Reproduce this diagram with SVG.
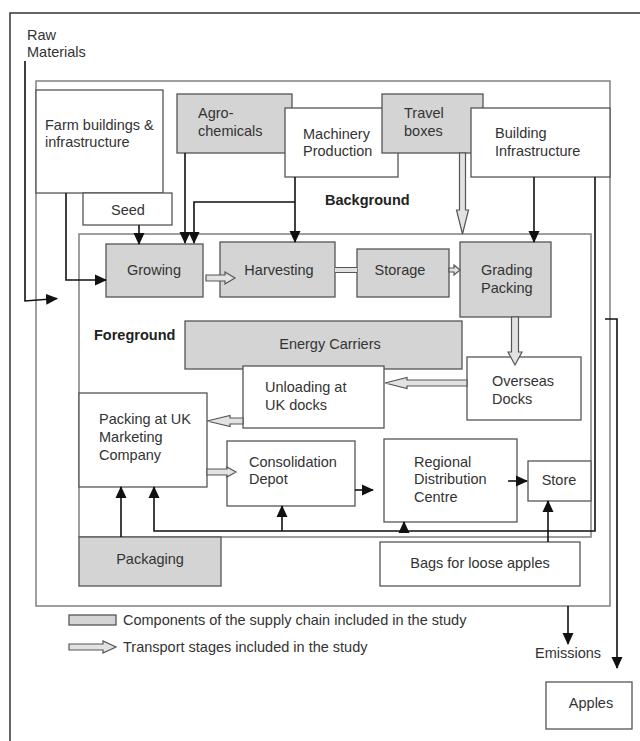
<svg xmlns="http://www.w3.org/2000/svg" width="640" height="741" viewBox="0 0 640 741">
<style>
text{font-family:"Liberation Sans",Arial,sans-serif;font-size:14.5px;fill:#333}
.b{font-weight:bold;fill:#222}
.c{text-anchor:middle}
.w{fill:#fff;stroke:#555;stroke-width:1.3}
.g{fill:#d4d4d4;stroke:#555;stroke-width:1.3}
.frame{fill:none;stroke:#888;stroke-width:1.6}
.ln{fill:none;stroke:#111;stroke-width:1.6}
.ho{fill:#e2e2e2;stroke:#555;stroke-width:1.2;stroke-linejoin:miter}
</style>
<defs>
<marker id="ah" markerUnits="userSpaceOnUse" markerWidth="12" markerHeight="12" viewBox="0 0 12 12" refX="11" refY="6" orient="auto">
<path d="M0,0.5 L12,6 L0,11.5 Z" fill="#111"/>
</marker>
</defs>
<rect width="640" height="741" fill="#fff"/>
<path d="M10,741 V13 H640" fill="none" stroke="#333" stroke-width="1.5"/>
<g id="raw-materials">
<text x="27" y="40">Raw</text>
<text x="27" y="57">Materials</text>
</g>
<g id="background-frame">
<rect class="frame" x="36" y="81" width="574" height="525"/>
<text class="b" x="325" y="205">Background</text>
</g>
<g id="foreground-frame">
<rect class="frame" x="79" y="234" width="512" height="303"/>
<text class="b" x="94" y="340">Foreground</text>
</g>
<g id="farm-buildings"><rect class="w" x="36" y="90" width="127" height="103"/><text x="45" y="130">Farm buildings &amp;</text><text x="45" y="147">infrastructure</text></g>
<g id="seed"><rect class="w" x="83" y="193" width="89" height="32"/><text class="c" x="128" y="215">Seed</text></g>
<g id="agro-chemicals"><rect class="g" x="177" y="94" width="115" height="59"/><text x="198" y="118">Agro-</text><text x="198" y="136">chemicals</text></g>
<g id="machinery"><rect class="w" x="285" y="108" width="113" height="69"/><text x="303" y="139">Machinery</text><text x="303" y="156">Production</text></g>
<g id="travel-boxes"><rect class="g" x="382" y="94" width="101" height="59"/><text x="404" y="118">Travel</text><text x="404" y="136">boxes</text></g>
<g id="building-infrastructure"><rect class="w" x="471" y="108" width="139" height="69"/><text x="495" y="138">Building</text><text x="495" y="156">Infrastructure</text></g>
<g id="growing"><rect class="g" x="106" y="244" width="97" height="53"/><text class="c" x="154" y="275">Growing</text></g>
<g id="harvesting"><rect class="g" x="220" y="242" width="115" height="55"/><text class="c" x="279" y="275">Harvesting</text></g>
<g id="storage"><rect class="g" x="357" y="249" width="92" height="48"/><text class="c" x="400" y="275">Storage</text></g>
<g id="grading-packing"><rect class="g" x="460" y="242" width="91" height="75"/><text x="481" y="275">Grading</text><text x="481" y="293">Packing</text></g>
<g id="energy-carriers"><rect class="g" x="185" y="321" width="277" height="48"/><text class="c" x="330" y="349">Energy Carriers</text></g>
<g id="overseas-docks"><rect class="w" x="467" y="357" width="114" height="63"/><text x="492" y="386">Overseas</text><text x="492" y="404">Docks</text></g>
<g id="unloading-uk-docks"><rect class="w" x="243" y="366" width="141" height="62"/><text x="265" y="392">Unloading at</text><text x="265" y="410">UK docks</text></g>
<g id="packing-uk"><rect class="w" x="79" y="393" width="128" height="94"/><text x="99" y="424">Packing at UK</text><text x="99" y="442">Marketing</text><text x="99" y="460">Company</text></g>
<g id="consolidation-depot"><rect class="w" x="227" y="441" width="128" height="65"/><text x="249" y="467">Consolidation</text><text x="249" y="484">Depot</text></g>
<g id="regional-distribution"><rect class="w" x="384" y="439" width="133" height="83"/><text x="414" y="467">Regional</text><text x="414" y="484">Distribution</text><text x="414" y="502">Centre</text></g>
<g id="store"><rect class="w" x="528" y="461" width="63" height="40"/><text class="c" x="559" y="485">Store</text></g>
<g id="packaging"><rect class="g" x="79" y="537" width="142" height="49"/><text class="c" x="150" y="564">Packaging</text></g>
<g id="bags"><rect class="w" x="380" y="542" width="200" height="44"/><text class="c" x="480" y="568">Bags for loose apples</text></g>
<g id="emissions"><text x="535" y="658">Emissions</text></g>
<g id="apples"><rect class="w" x="546" y="682" width="86" height="47"/><text class="c" x="591" y="708">Apples</text></g>
<g id="connectors">
<path class="ln" d="M25,61 V301 L57,298.5" marker-end="url(#ah)"/>
<path class="ln" d="M66,193 V280 H106" marker-end="url(#ah)"/>
<path class="ln" d="M139,225 V244" marker-end="url(#ah)"/>
<path class="ln" d="M185,153 V243" marker-end="url(#ah)"/>
<path class="ln" d="M295,177 V242" marker-end="url(#ah)"/>
<path class="ln" d="M295,202 H194 V243" marker-end="url(#ah)"/>
<path class="ln" d="M534,177 V242" marker-end="url(#ah)"/>
<path class="ln" d="M355,490 H373" marker-end="url(#ah)"/>
<path class="ln" d="M508,481 H527" marker-end="url(#ah)"/>
<path class="ln" d="M548,542 V501" marker-end="url(#ah)"/>
<path class="ln" d="M121,537 V487" marker-end="url(#ah)"/>
<path class="ln" d="M595,177 V531 H154 V487" marker-end="url(#ah)"/>
<path class="ln" d="M282,531 V506" marker-end="url(#ah)"/>
<path class="ln" d="M404,531 V522" marker-end="url(#ah)"/>
<path class="ln" d="M605,319 H617 V668" marker-end="url(#ah)"/>
<path class="ln" d="M568,606 V644" marker-end="url(#ah)"/>
<polygon class="ho" points="206,275 225,275 225,272 235,278 225,284 225,281 206,281"/>
<rect x="335" y="267.5" width="22" height="5" fill="#e2e2e2"/>
<path d="M335,267.5 H357 M335,272.5 H357" stroke="#555" stroke-width="1.2"/>
<polygon class="ho" points="449,268 454,268 454,265 460,270 454,275 454,272 449,272"/>
<polygon class="ho" points="459.5,153 465.5,153 465.5,210 468.5,210 462.5,234 456.5,210 459.5,210"/>
<polygon class="ho" points="511.5,317 518.5,317 518.5,352 522,352 515,365 508,352 511.5,352"/>
<polygon class="ho" points="467,380 407,380 407,377.5 385,383 407,388.5 407,386 467,386"/>
<polygon class="ho" points="243,418 230,418 230,415.5 207,421 230,426.5 230,424 243,424"/>
<polygon class="ho" points="207,469 227,469 227,467 236,472 227,477 227,475 207,475"/>
</g>
<g id="legend">
<rect class="g" x="69" y="615" width="47" height="10"/>
<text x="123" y="625">Components of the supply chain included in the study</text>
<polygon class="ho" points="69,644 103,644 103,641 116,647 103,653 103,650 69,650"/>
<text x="123" y="652">Transport stages included in the study</text>
</g>
</svg>
